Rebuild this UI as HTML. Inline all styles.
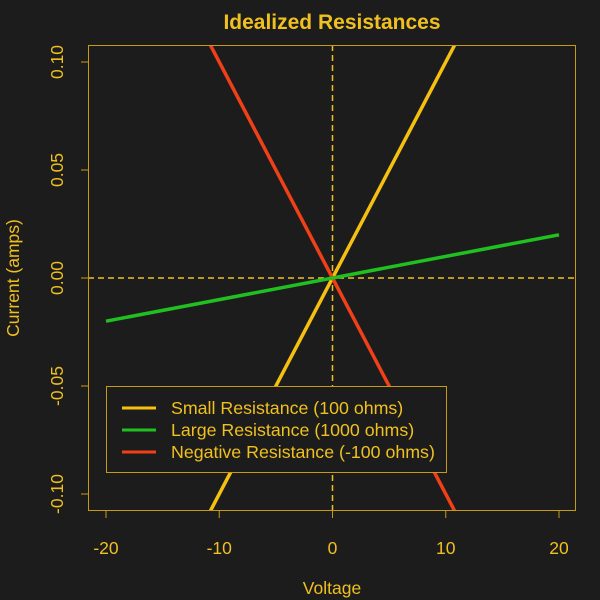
<!DOCTYPE html>
<html><head><style>html,body{margin:0;padding:0;background:#1c1c1c;overflow:hidden;width:600px;height:600px;}svg{display:block;}</style></head>
<body>
<svg width="600" height="600" xmlns="http://www.w3.org/2000/svg" font-family="Liberation Sans, sans-serif">
<rect width="600" height="600" fill="#1c1c1c"/>
<defs><clipPath id="c"><rect x="88" y="45" width="488" height="466"/></clipPath></defs>
<g clip-path="url(#c)">
<line x1="88" y1="278" x2="576" y2="278" stroke="#f0c020" stroke-width="1.5" stroke-dasharray="6,4"/>
<line x1="332.5" y1="45" x2="332.5" y2="511" stroke="#f0c020" stroke-width="1.5" stroke-dasharray="6,4"/>
<line x1="106" y1="710" x2="559" y2="-154" stroke="#f5c010" stroke-width="3.5"/>
<line x1="106" y1="-154" x2="559" y2="710" stroke="#f04018" stroke-width="3.5"/>
<line x1="106" y1="321.2" x2="559" y2="234.8" stroke="#20c020" stroke-width="3.5"/>
</g>
<rect x="88.5" y="45.5" width="487" height="465" fill="none" stroke="#c89a10" stroke-width="1"/>
<g stroke="#c89a10" stroke-width="1">
<line x1="106" y1="511" x2="106" y2="518"/><line x1="219.25" y1="511" x2="219.25" y2="518"/><line x1="332.5" y1="511" x2="332.5" y2="518"/><line x1="445.75" y1="511" x2="445.75" y2="518"/><line x1="559" y1="511" x2="559" y2="518"/>
<line x1="81" y1="62" x2="88" y2="62"/><line x1="81" y1="170" x2="88" y2="170"/><line x1="81" y1="278" x2="88" y2="278"/><line x1="81" y1="386" x2="88" y2="386"/><line x1="81" y1="494" x2="88" y2="494"/>
</g>
<g fill="#f0c020" font-size="17.5" text-anchor="middle">
<text x="106" y="554">-20</text><text x="219.25" y="554">-10</text><text x="332.5" y="554">0</text><text x="445.75" y="554">10</text><text x="559" y="554">20</text>
<text transform="translate(63,62) rotate(-90)">0.10</text>
<text transform="translate(63,170) rotate(-90)">0.05</text>
<text transform="translate(63,278) rotate(-90)">0.00</text>
<text transform="translate(63,386) rotate(-90)">-0.05</text>
<text transform="translate(63,494) rotate(-90)">-0.10</text>
<text x="332" y="594">Voltage</text>
<text transform="translate(19,278) rotate(-90)">Current (amps)</text>
<text x="332" y="29" font-size="21" font-weight="bold">Idealized Resistances</text>
</g>
<rect x="106.5" y="386.5" width="340" height="86" fill="#1c1c1c" stroke="#c89a10" stroke-width="1"/>
<line x1="122" y1="408" x2="156" y2="408" stroke="#f5c010" stroke-width="3"/>
<line x1="122" y1="430" x2="156" y2="430" stroke="#20c020" stroke-width="3"/>
<line x1="122" y1="452" x2="156" y2="452" stroke="#f04018" stroke-width="3"/>
<g fill="#f0c020" font-size="17.8">
<text x="171" y="414">Small Resistance (100 ohms)</text>
<text x="171" y="436">Large Resistance (1000 ohms)</text>
<text x="171" y="458">Negative Resistance (-100 ohms)</text>
</g>
</svg>
</body></html>
